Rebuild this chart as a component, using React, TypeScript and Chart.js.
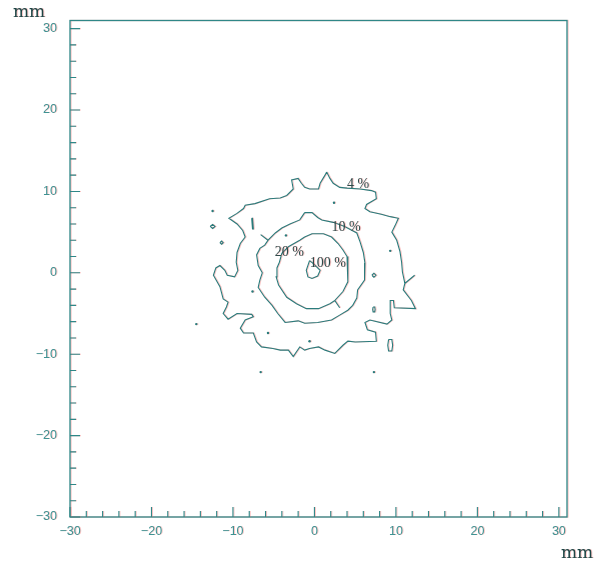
import React, { useEffect, useRef } from "react";
import { Chart, registerables } from "chart.js";

Chart.register(...registerables);

type P = [number, number];

// ---- axis data ----
const AXIS_MIN = -30;
const AXIS_MAX = 31;
const X_TICKS = [-30, -20, -10, 0, 10, 20, 30];
const Y_TICKS = [-30, -20, -10, 0, 10, 20, 30];
const MINOR_STEP = 2;
const X_TITLE = "mm";
const Y_TITLE = "mm";

// ---- contour data (mm) ----
const CONTOUR_4: P[] = [
  [1.5, 12.4], [1.9, 11.6], [2.3, 11.0], [3.1, 10.5], [4.0, 10.4], [5.6, 10.3], [7.0, 10.1],
  [7.5, 9.9], [7.6, 9.1], [6.4, 8.4], [6.2, 7.9], [6.8, 7.5], [8.2, 7.2], [9.3, 6.9],
  [10.3, 6.7], [9.9, 5.8], [9.5, 5.0], [10.1, 4.0], [10.5, 2.6], [10.7, 1.3], [10.8, 0.1],
  [11.1, -1.3], [12.3, -0.3], [11.1, -1.3], [10.9, -2.1], [11.9, -3.4], [12.4, -4.4],
  [9.8, -4.3], [9.7, -3.4], [9.3, -3.4], [9.3, -5.0], [9.5, -5.8], [8.9, -6.3], [6.8, -5.8],
  [6.2, -6.1], [6.5, -7.0], [7.5, -7.3], [7.6, -8.4], [5.0, -8.5], [4.1, -8.4], [3.5, -8.9],
  [2.5, -9.9], [1.3, -9.5], [0.5, -9.1], [-0.6, -9.3], [-1.2, -9.5], [-1.8, -9.1],
  [-2.6, -10.3], [-3.2, -9.5], [-4.2, -9.5], [-5.1, -9.3], [-6.5, -9.1], [-7.1, -8.5],
  [-7.5, -7.4], [-8.7, -7.4], [-9.1, -6.8], [-8.5, -5.8], [-7.5, -5.4], [-7.7, -5.1],
  [-9.5, -5.0], [-10.6, -5.7], [-11.2, -5.0], [-10.8, -4.2], [-10.6, -3.6], [-11.2, -3.2],
  [-11.6, -1.7], [-12.4, -0.3], [-12.1, 0.6], [-11.6, 0.9], [-11.0, 0.3], [-10.7, -0.3],
  [-9.8, -0.5], [-9.4, 0.3], [-9.6, 1.3], [-9.5, 2.5], [-9.1, 3.6], [-8.5, 4.4], [-8.8, 5.2],
  [-9.5, 6.0], [-10.5, 6.7], [-9.5, 7.3], [-8.7, 7.9], [-8.5, 8.3], [-7.3, 8.5], [-5.5, 9.1],
  [-4.2, 9.2], [-3.4, 9.5], [-2.6, 10.3], [-2.8, 11.4], [-2.0, 11.6], [-1.6, 11.0],
  [-1.2, 10.5], [-0.6, 10.3], [0.5, 10.3], [0.7, 11.0], [1.3, 12.0], [1.5, 12.4],
];

const CONTOUR_10: P[] = [
  [-1.2, 7.4], [-0.3, 7.4], [0.4, 6.8], [0.9, 6.5], [2.3, 6.2], [3.7, 5.7], [5.2, 4.9],
  [5.6, 3.8], [6.0, 2.5], [6.2, 1.2], [6.2, -0.3], [6.1, -0.9], [5.3, -2.1], [5.2, -3.1],
  [4.7, -4.0], [4.1, -4.6], [3.1, -5.2], [2.1, -5.8], [0.4, -6.1], [-1.2, -6.2], [-2.0, -5.9],
  [-3.6, -6.1], [-4.5, -5.0], [-5.2, -4.0], [-6.1, -3.0], [-6.9, -1.8], [-6.7, -0.9],
  [-6.4, 0.0], [-6.9, 0.9], [-7.1, 2.2], [-6.7, 3.0], [-6.1, 3.4], [-5.7, 4.0], [-6.6, 4.7],
  [-5.7, 4.0], [-4.8, 4.9], [-4.0, 5.5], [-3.0, 6.0], [-1.8, 6.5], [-1.2, 7.4],
];

const CONTOUR_20: P[] = [
  [-1.2, 4.4], [-0.3, 4.8], [1.1, 4.8], [2.1, 4.4], [2.9, 3.6], [3.5, 2.8], [4.0, 2.0],
  [4.1, 0.9], [4.1, -0.3], [4.1, -1.1], [3.5, -2.3], [2.5, -3.4], [3.1, -4.3], [2.5, -3.4],
  [1.9, -3.8], [0.5, -4.4], [-1.0, -4.4], [-2.2, -3.8], [-3.4, -3.0], [-4.4, -1.5],
  [-4.7, -0.5], [-4.6, 0.6], [-4.3, 1.3], [-4.0, 2.4], [-3.2, 3.2], [-1.8, 4.0], [-1.2, 4.4],
];

const CONTOUR_100: P[] = [
  [-0.6, 1.5], [-1.0, 0.3], [-0.8, -0.5], [-0.3, -0.7], [0.4, -0.4], [0.7, 0.3],
  [0.3, 0.7], [-0.1, 1.1], [-0.6, 1.5],
];

const ISLAND_A: P[] = [[-12.8, 5.7], [-12.5, 5.95], [-12.2, 5.7], [-12.5, 5.45], [-12.8, 5.7]];
const ISLAND_B: P[] = [[-11.6, 3.7], [-11.4, 3.9], [-11.2, 3.7], [-11.4, 3.5], [-11.6, 3.7]];
const ISLAND_C: P[] = [[-7.7, 6.7], [-7.6, 6.7], [-7.5, 5.4], [-7.6, 5.4], [-7.7, 6.7]];
const ISLAND_D: P[] = [[7.05, -0.3], [7.3, -0.05], [7.55, -0.3], [7.3, -0.55], [7.05, -0.3]];
const ISLAND_E: P[] = [[7.2, -4.2], [7.4, -4.2], [7.45, -4.5], [7.4, -4.8], [7.2, -4.8], [7.15, -4.5], [7.2, -4.2]];
const ISLAND_F: P[] = [[9.1, -8.2], [9.5, -8.2], [9.6, -8.9], [9.5, -9.6], [9.1, -9.6], [9.0, -8.9], [9.1, -8.2]];

const DOTS: P[] = [
  [2.4, 8.6], [-12.5, 7.6], [-3.5, 4.6], [9.3, 2.7], [-7.6, -2.3], [-14.5, -6.3],
  [-5.7, -7.4], [-0.6, -8.4], [-6.6, -12.2], [7.3, -12.2],
];

const LEVEL_LABELS = ["4 %", "10 %", "20 %", "100 %"];
const LEVEL_LABEL_X = [5.35, 3.87, -3.07, 1.66];
const LEVEL_LABEL_Y = [10.87, 5.6, 2.53, 1.18];

// ---- styles ----
const LINE_COLOR = "#2a7c7c";
const AXIS_COLOR = "#2f8787";
const TICK_TEXT_COLOR = "#3e9393";
const LABEL_COLOR = "#2e4a4a";
const TITLE_COLOR = "#1e4646";

const toXY = (pts: P[]) => pts.map(([x, y]) => ({ x, y }));

const lineSet = (pts: P[]) => ({
  data: toXY(pts),
  showLine: true,
  borderColor: LINE_COLOR,
  backgroundColor: LINE_COLOR,
  borderWidth: 1.1,
  pointRadius: 0,
  tension: 0,
  fill: false,
});

export default function App() {
  const ref = useRef<HTMLCanvasElement | null>(null);

  useEffect(() => {
    const canvas = ref.current;
    if (!canvas) return;

    const decor = {
      id: "decor",
      beforeDraw(chart: any) {
        const ctx = chart.ctx;
        ctx.save();
        ctx.shadowColor = "rgba(235,90,90,0.35)";
        ctx.shadowOffsetX = 1;
        ctx.shadowOffsetY = 0;
        ctx.shadowBlur = 0;
      },
      afterDraw(chart: any) {
        const { ctx, chartArea: a, scales } = chart;
        const xs = scales.x;
        const ys = scales.y;
        // frame
        ctx.strokeStyle = AXIS_COLOR;
        ctx.lineWidth = 1.3;
        ctx.strokeRect(a.left, a.top, a.right - a.left, a.bottom - a.top);
        // inward tick marks
        ctx.beginPath();
        for (let v = X_TICKS[0]; v <= X_TICKS[X_TICKS.length - 1]; v += MINOR_STEP) {
          const major = X_TICKS.includes(v);
          const len = major ? 10 : 6;
          const px = xs.getPixelForValue(v);
          ctx.moveTo(px, a.bottom);
          ctx.lineTo(px, a.bottom - len);
        }
        for (let v = Y_TICKS[0]; v <= Y_TICKS[Y_TICKS.length - 1]; v += MINOR_STEP) {
          const major = Y_TICKS.includes(v);
          const len = major ? 10 : 6;
          const py = ys.getPixelForValue(v);
          ctx.moveTo(a.left, py);
          ctx.lineTo(a.left + len, py);
        }
        ctx.lineWidth = 1.1;
        ctx.stroke();
        // level labels
        ctx.fillStyle = LABEL_COLOR;
        ctx.font = "14px 'Liberation Serif', serif";
        ctx.textAlign = "center";
        ctx.textBaseline = "middle";
        LEVEL_LABELS.forEach((t, i) => {
          ctx.fillText(t, xs.getPixelForValue(LEVEL_LABEL_X[i]), ys.getPixelForValue(LEVEL_LABEL_Y[i]));
        });
        // axis titles
        ctx.fillStyle = TITLE_COLOR;
        ctx.font = "17px 'DejaVu Serif', serif";
        ctx.textAlign = "left";
        ctx.textBaseline = "alphabetic";
        ctx.fillText(Y_TITLE, 13, 17);
        ctx.fillText(X_TITLE, 561, 558);
        ctx.restore();
      },
    };

    const fmt = (v: any) => String(v).replace("-", "\u2212");

    const chart = new Chart(canvas, {
      type: "scatter",
      data: {
        datasets: [
          lineSet(CONTOUR_4),
          lineSet(CONTOUR_10),
          lineSet(CONTOUR_20),
          lineSet(CONTOUR_100),
          lineSet(ISLAND_A),
          lineSet(ISLAND_B),
          lineSet(ISLAND_C),
          lineSet(ISLAND_D),
          lineSet(ISLAND_E),
          lineSet(ISLAND_F),
          {
            data: toXY(DOTS),
            showLine: false,
            pointRadius: 1.2,
            pointBorderWidth: 0,
            backgroundColor: LINE_COLOR,
            borderColor: LINE_COLOR,
          },
        ] as any,
      },
      options: {
        animation: false,
        responsive: false,
        devicePixelRatio: 1,
        events: [],
        layout: { padding: { top: 20, right: 31, left: 0, bottom: 0 } },
        plugins: { legend: { display: false }, tooltip: { enabled: false } },
        scales: {
          x: {
            type: "linear",
            min: AXIS_MIN,
            max: AXIS_MAX,
            grid: { display: false, drawTicks: false },
            border: { display: false },
            afterBuildTicks: (s: any) => {
              s.ticks = X_TICKS.map((value) => ({ value }));
            },
            afterFit: (s: any) => {
              s.height = 45;
            },
            ticks: {
              padding: 7,
              color: TICK_TEXT_COLOR,
              font: { family: "'Liberation Sans', Arial, sans-serif", size: 12.5 },
              callback: fmt,
              maxRotation: 0,
              autoSkip: false,
            },
          },
          y: {
            type: "linear",
            min: AXIS_MIN,
            max: AXIS_MAX,
            grid: { display: false, drawTicks: false },
            border: { display: false },
            afterBuildTicks: (s: any) => {
              s.ticks = Y_TICKS.map((value) => ({ value }));
            },
            afterFit: (s: any) => {
              s.width = 70;
            },
            ticks: {
              padding: 13,
              color: TICK_TEXT_COLOR,
              font: { family: "'Liberation Sans', Arial, sans-serif", size: 12.5 },
              callback: fmt,
              autoSkip: false,
            },
          },
        },
      } as any,
      plugins: [decor],
    });

    return () => chart.destroy();
  }, []);

  return (
    <div style={{ position: "absolute", left: 0, top: 0, width: 598, height: 562, background: "#fff" }}>
      <canvas ref={ref} width={598} height={562} style={{ display: "block", width: 598, height: 562 }} />
    </div>
  );
}
